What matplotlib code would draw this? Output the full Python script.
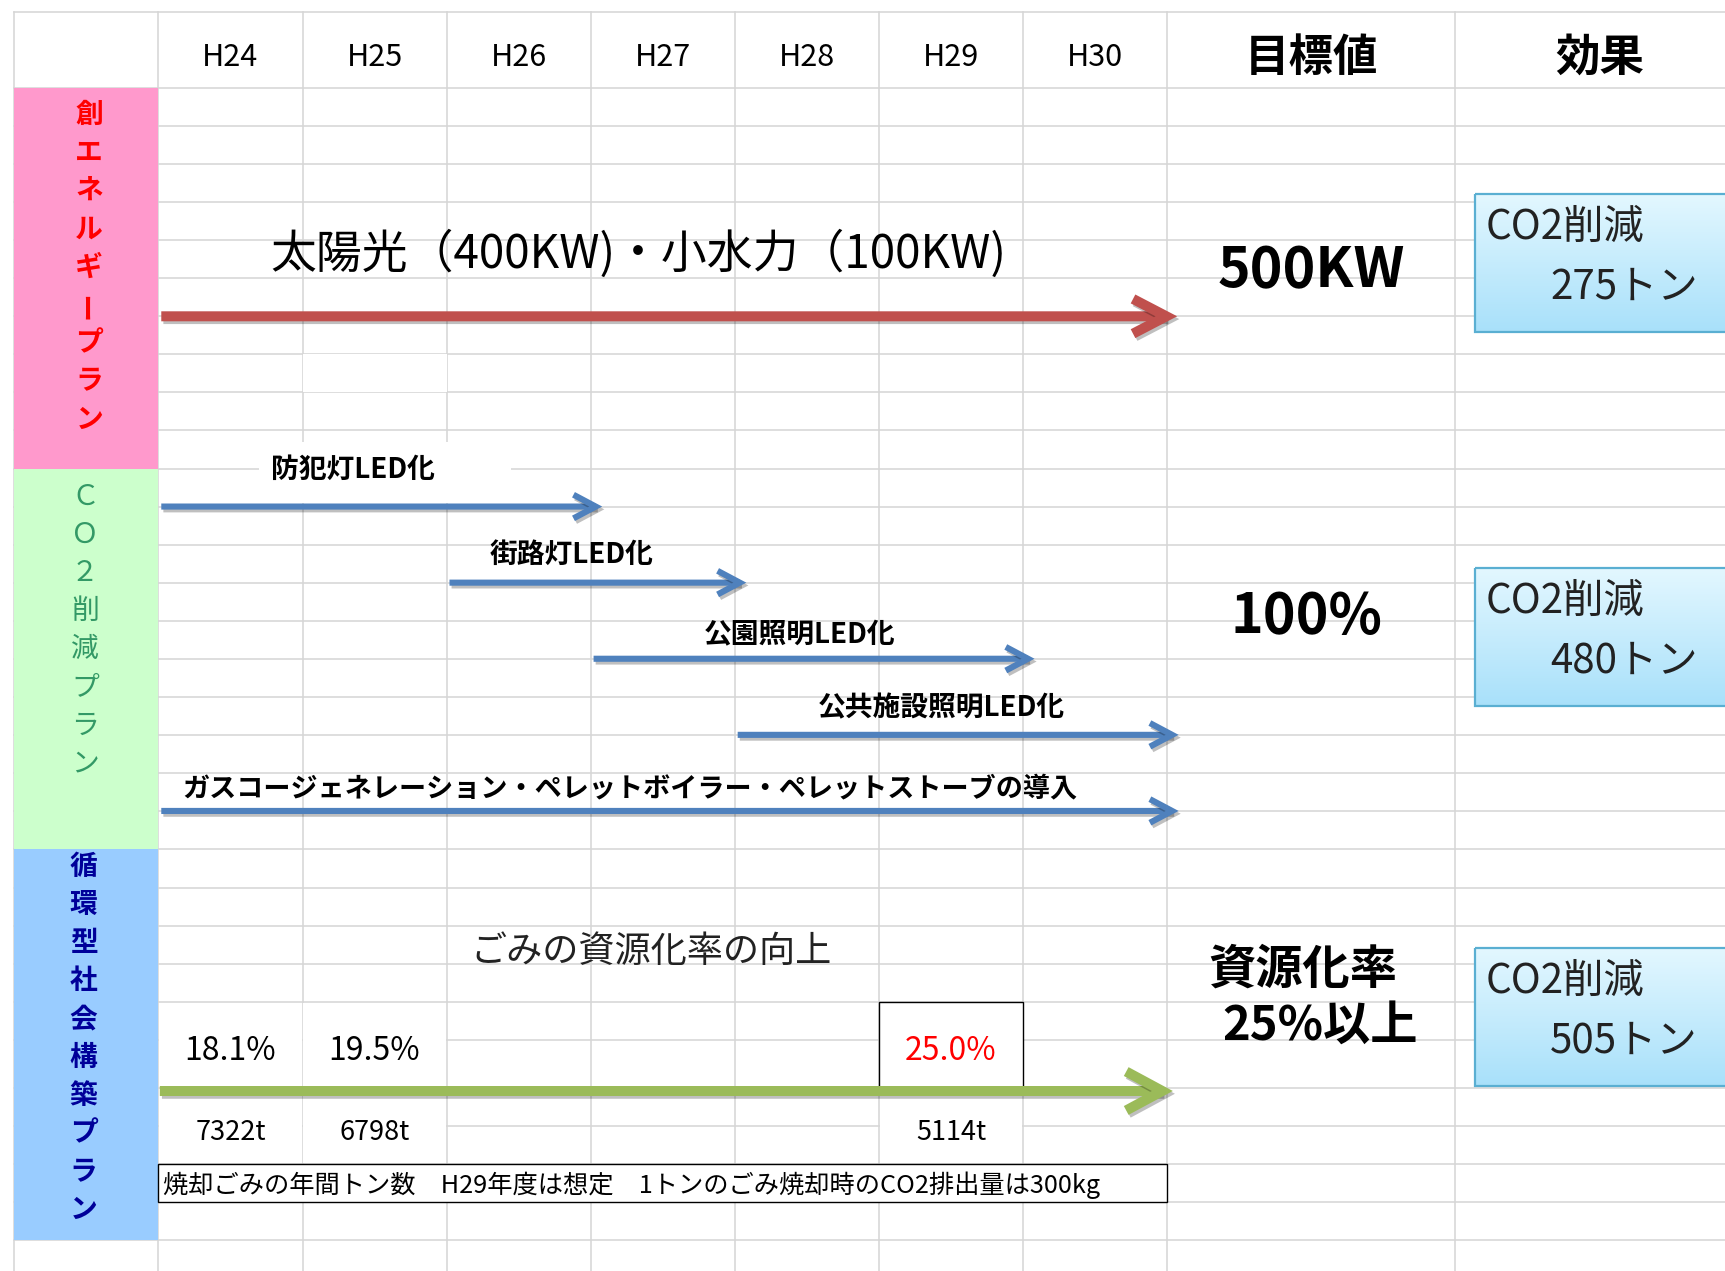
import numpy as np
import matplotlib.pyplot as plt
import matplotlib.patheffects as pe
from matplotlib.patches import Rectangle, FancyArrowPatch

plt.rcParams['font.family'] = ['Noto Sans CJK JP', 'DejaVu Sans']

# ---------------------------------------------------------
# DATA
# ---------------------------------------------------------
years = ['H24', 'H25', 'H26', 'H27', 'H28', 'H29', 'H30']
header_target = '目標値'
header_effect = '効果'

section_titles = ['創エネルギープラン', 'ＣＯ２削減プラン', '循環型社会構築プラン']

energy_label = '太陽光（400KW)・小水力（100KW)'
energy_start, energy_end = 0, 6          # H24 .. H30

co2_labels = ['防犯灯LED化', '街路灯LED化', '公園照明LED化', '公共施設照明LED化',
              'ガスコージェネレーション・ペレットボイラー・ペレットストーブの導入']
co2_start = [0, 2, 3, 4, 0]
co2_end = [2, 3, 5, 6, 6]

recycle_title = 'ごみの資源化率の向上'
recycle_start, recycle_end = 0, 6
rate_years = ['H24', 'H25', 'H29']
rates = [18.1, 19.5, 25.0]
tons = [7322, 6798, 5114]
note = '焼却ごみの年間トン数　H29年度は想定　1トンのごみ焼却時のCO2排出量は300kg'

targets = ['500KW', '100%', '資源化率', '25%以上']
co2_cut = [275, 480, 505]

# ---------------------------------------------------------
# LAYOUT (spreadsheet grid)
# ---------------------------------------------------------
W, H = 1725, 1271
X0, COL = 158.4, 144.1
row_h = [76] + [38.05] * 20 + [39, 38, 38, 38, 38, 48, 38, 38, 38, 38, 38]
edges = 12 + np.concatenate([[0], np.cumsum(row_h)])
xmin, xmax = -X0 / COL, (W - X0) / COL
DY = 4   # small downward nudge for text

fig = plt.figure(figsize=(W / 100, H / 100), dpi=100)
ax = fig.add_axes([0, 0, 1, 1])
ax.set_xlim(xmin, xmax)
ax.set_ylim(H, 0)
ax.axis('off')

grid_c = '#D5D5D5'
for c in [-1, 0, 1, 2, 3, 4, 5, 6, 7, 9, 11]:
    ax.plot([c, c], [edges[0], H], color=grid_c, lw=1.1, zorder=1)
for e in edges:
    ax.plot([-1, xmax], [e, e], color=grid_c, lw=1.1, zorder=1)

# header
for i, y in enumerate(years):
    ax.text(i + 0.5, 54 + DY, y, ha='center', va='center', fontsize=22, zorder=5)
ax.text(8.0, 54 + DY, header_target, ha='center', va='center', fontsize=32,
        fontweight='bold', zorder=5)
ax.text(10.0, 54 + DY, header_effect, ha='center', va='center', fontsize=32,
        fontweight='bold', zorder=5)

# section columns
sec_fill = ['#FF99CC', '#CCFFCC', '#99CCFF']
sec_text = ['#FF0000', '#339966', '#000099']
sec_weight = ['bold', 'normal', 'bold']
sec_rows = [(1, 11), (11, 21), (21, 31)]
sec_first = [115, 497, 867]
sec_x = [-0.48, -0.51, -0.52]
for k in range(3):
    r0, r1 = sec_rows[k]
    ax.add_patch(Rectangle((-1, edges[r0]), 1, edges[r1] - edges[r0],
                           fc=sec_fill[k], ec='none', zorder=2))
    for j, ch in enumerate(section_titles[k]):
        ax.text(sec_x[k], sec_first[k] + 38.1 * j, ch, ha='center', va='center',
                fontsize=20, color=sec_text[k], fontweight=sec_weight[k],
                rotation=90 if ch == 'ー' else 0, zorder=5)

# white (empty) cells hiding grid lines
blank = [(1, edges[8], 1, edges[9] - edges[8]),
         (0.70, 442, 1.75, 61)]
for bx, by, bw, bh in blank:
    ax.add_patch(Rectangle((bx, by), bw, bh, fc='white', ec='none', zorder=2))


def arrow(x0, x1, y, color, lw, hl, hw):
    a = FancyArrowPatch((x0, y), (x1, y),
                        arrowstyle=f'->,head_length={hl},head_width={hw}',
                        mutation_scale=10, lw=lw, color=color,
                        shrinkA=0, shrinkB=0, capstyle='butt', joinstyle='miter',
                        zorder=4)
    a.set_path_effects([pe.SimpleLineShadow(offset=(1.5, -2), shadow_color='k', alpha=0.25),
                        pe.Normal()])
    ax.add_patch(a)


# energy plan
y_en = edges[7]
arrow(energy_start + 0.02, energy_end + 1.07, y_en, '#C0504D', 7.2, 2.4, 1.25)
ax.text((energy_start + energy_end + 1) / 2 - 0.17, y_en - 66 + DY, energy_label,
        ha='center', va='center', fontsize=33, zorder=5)

# co2 plan
co2_rows = [12, 14, 16, 18, 20]
label_dx = [-0.15, -0.13, -0.05, -0.07, -0.23]
label_dy = [-41, -32, -27, -31, -27]
for k in range(len(co2_labels)):
    y = edges[co2_rows[k]]
    arrow(co2_start[k] + 0.02, co2_end[k] + 1.08, y, '#4F81BD', 4.4, 1.6, 0.85)
    xc = (co2_start[k] + co2_end[k] + 1) / 2 + label_dx[k]
    ax.text(xc, y + label_dy[k] + DY, co2_labels[k], ha='center', va='center',
            fontsize=19.5 if k == 4 else 20, fontweight='bold', zorder=5)

# recycling plan
y_rc = edges[27] + 3
for k, yr in enumerate(rate_years):
    i = years.index(yr)
    # merged cells: hide inner grid line
    for r0 in (25, 27):
        ax.add_patch(Rectangle((i + 0.006, edges[r0] + 1), 0.988, edges[r0 + 2] - edges[r0] - 2,
                               fc='white', ec='none', zorder=2))
    is_goal = k == len(rates) - 1
    if is_goal:
        ax.add_patch(Rectangle((i, edges[25]), 1, edges[27] - edges[25],
                               fc='white', ec='black', lw=1.0, zorder=3))
    ax.text(i + 0.5, (edges[25] + edges[27]) / 2 + 2 + DY, f'{rates[k]:.1f}%', ha='center',
            va='center', fontsize=23, color='#FF0000' if is_goal else 'black', zorder=5)
    ax.text(i + 0.5, (edges[27] + edges[29]) / 2 + 3 + DY, f'{tons[k]}t', ha='center',
            va='center', fontsize=19.5, zorder=5)

arrow(recycle_start + 0.01, recycle_end + 1.04, y_rc, '#9BBB59', 7.2, 2.6, 1.4)
ax.text(3.42, 948 + DY, recycle_title, ha='center', va='center', fontsize=26,
        color='#222222', zorder=5)

ax.add_patch(Rectangle((0, edges[29]), 7, edges[30] - edges[29],
                       fc='white', ec='black', lw=1.0, zorder=3))
ax.text(0.03, (edges[29] + edges[30]) / 2 + 2, note, ha='left', va='center',
        fontsize=18.2, zorder=5)

# targets
ax.text(8.0, 267 + DY, targets[0], ha='center', va='center', fontsize=40,
        fontweight='bold', zorder=5)
ax.text(7.97, 613 + DY, targets[1], ha='center', va='center', fontsize=40,
        fontweight='bold', zorder=5)
ax.text(7.94, 966 + DY, targets[2], ha='center', va='center', fontsize=34,
        fontweight='bold', zorder=5)
ax.text(8.06, 1022 + DY, targets[3], ha='center', va='center', fontsize=34,
        fontweight='bold', zorder=5)

# effect boxes with gradient
grad = np.linspace(0, 1, 256).reshape(-1, 1)
top_c = np.array([0.89, 0.97, 1.0])
bot_c = np.array([0.66, 0.88, 0.98])
grad_img = top_c + grad[:, :, None] * (bot_c - top_c)
box_top = [194, 568, 948]
box_h = 138
bx0 = 9.14
for k, val in enumerate(co2_cut):
    t = box_top[k]
    ax.imshow(grad_img, extent=[bx0, xmax + 0.5, t + box_h, t], origin='upper',
              aspect='auto', zorder=3, interpolation='bilinear')
    ax.add_patch(Rectangle((bx0, t), xmax + 0.5 - bx0, box_h, fc='none',
                           ec='#5AAFD2', lw=1.6, zorder=3.5))
    ax.text(bx0 + 0.07, t + 29 + DY, 'CO2削減', ha='left', va='center', fontsize=29,
            color='#222222', zorder=5)
    ax.text(10.17, t + 89 + DY, f'{val}トン', ha='center', va='center', fontsize=29,
            color='#222222', zorder=5)

ax.set_xlim(xmin, xmax)
ax.set_ylim(H, 0)

fig.savefig('out.png', dpi=100)
